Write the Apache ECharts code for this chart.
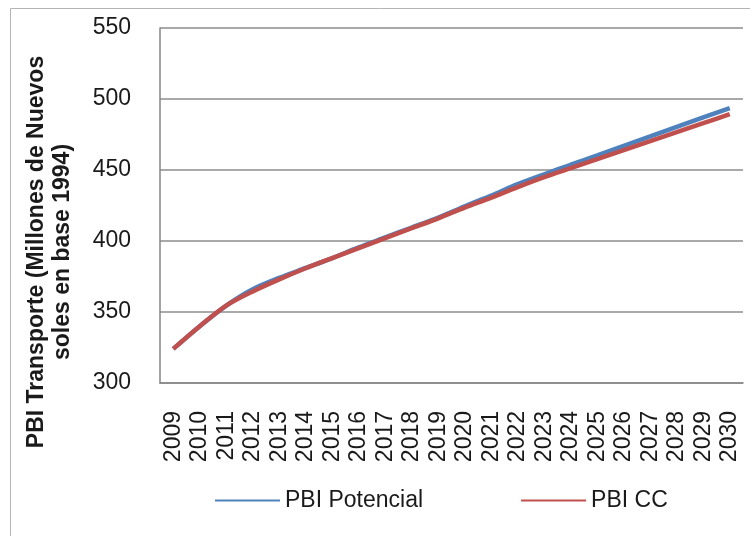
<!DOCTYPE html>
<html>
<head>
<meta charset="utf-8">
<script src="https://cdn.jsdelivr.net/npm/echarts@6/dist/echarts.min.js"></script>
<style>
  html, body { margin: 0; padding: 0; background: #fff; }
  #chart { width: 750px; height: 536px; }
</style>
</head>
<body>
<div id="chart"></div>
<script>
// values
const years = ['2009', '2010', '2011', '2012', '2013', '2014', '2015', '2016', '2017', '2018', '2019',
               '2020', '2021', '2022', '2023', '2024', '2025', '2026', '2027', '2028', '2029', '2030']
const pbiPotencial = [324, 340, 354.5, 366, 374, 381, 388, 395.5, 402.5, 409.5, 416.5,
                      424.5, 432, 440, 447, 453.7, 460.3, 467, 473.6, 480.3, 487, 493.6]
const pbiCC = [324, 340, 354.5, 364.5, 373, 380.8, 388, 395, 402, 409, 416,
               423.5, 430.5, 438, 445, 451.3, 457.7, 464, 470.3, 476.7, 483, 489.3]
const yTicks = {min: 300, max: 550, step: 50}
const yTitle = 'PBI Transporte (Millones de Nuevos\nsoles en base 1994)'

const font = '"Liberation Sans", Arial, sans-serif'
const textColor = '#1a1a1a'

const chart = echarts.init(document.getElementById('chart'), null, {renderer: 'canvas'})

chart.setOption({
  animation: false,
  backgroundColor: '#fff',
  textStyle: {fontFamily: font},
  graphic: [
    {
      type: 'rect',
      shape: {x: 10.5, y: 8.5, width: 760, height: 560},
      style: {fill: 'none', stroke: '#b4b4b4', lineWidth: 1},
      silent: true
    },
    {
      type: 'text',
      x: 50, y: 252,
      rotation: Math.PI / 2,
      style: {
        text: yTitle,
        fontFamily: font, fontSize: 23, fontWeight: 'bold',
        fill: textColor, align: 'center', verticalAlign: 'middle', lineHeight: 26
      }
    }
  ],
  grid: {left: 160, right: 7, top: 28, bottom: 153, containLabel: false},
  legend: {
    left: 210, top: 484,
    itemWidth: 65, itemHeight: 2, itemGap: 98,
    icon: 'rect',
    textStyle: {fontFamily: font, fontSize: 23, color: textColor},
    data: ['PBI Potencial', 'PBI CC']
  },
  xAxis: {
    type: 'category',
    data: years,
    boundaryGap: true,
    axisLine: {lineStyle: {color: '#868686', width: 1.5}},
    axisTick: {show: false},
    axisLabel: {rotate: 90, interval: 0, margin: 28, fontSize: 23, color: textColor, fontFamily: font}
  },
  yAxis: {
    type: 'value',
    min: yTicks.min, max: yTicks.max, interval: yTicks.step,
    axisLine: {show: true, lineStyle: {color: '#868686', width: 1.5}},
    axisTick: {show: false},
    axisLabel: {margin: 29, fontSize: 23, color: textColor, fontFamily: font},
    splitLine: {lineStyle: {color: '#8c8c8c', width: 1.5}}
  },
  series: [
    {
      name: 'PBI Potencial', type: 'line', data: pbiPotencial,
      smooth: 0.3, symbol: 'none',
      color: '#4F81BD',
      lineStyle: {width: 4.5, color: '#4F81BD'}
    },
    {
      name: 'PBI CC', type: 'line', data: pbiCC,
      smooth: 0.3, symbol: 'none',
      color: '#C0504D',
      lineStyle: {width: 4.5, color: '#C0504D'}
    }
  ]
})
</script>
</body>
</html>
